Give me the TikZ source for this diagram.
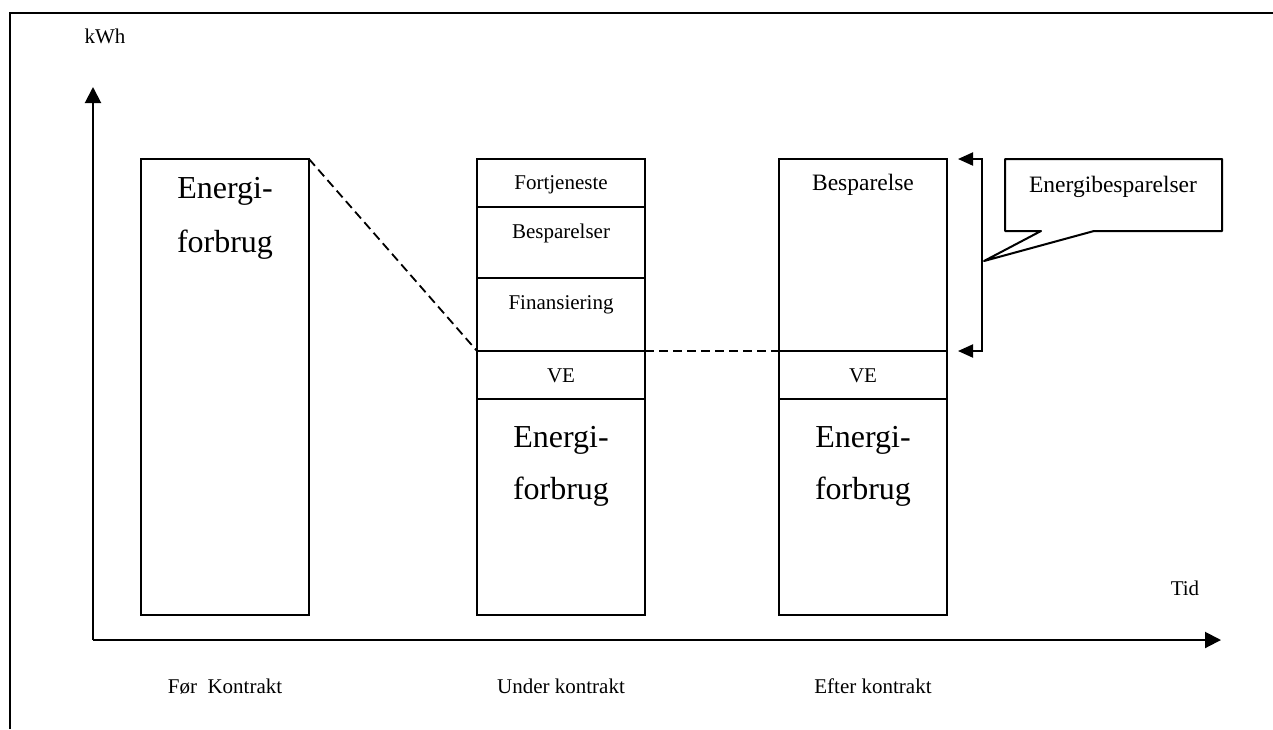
\documentclass[tikz,border=0pt]{standalone}
\usepackage{fontspec}
\setmainfont{Liberation Serif}
\usetikzlibrary{arrows.meta}
\begin{document}
\begin{tikzpicture}[x=1pt,y=-1pt,
  every node/.style={inner sep=0pt, outer sep=0pt},
  bar/.style={draw, line width=2pt, minimum width=168pt, inner sep=0pt},
  small/.style={font=\fontsize{21}{25}\selectfont, anchor=base},
  medium/.style={font=\fontsize{23.5}{28}\selectfont, anchor=base},
  big/.style={font=\fontsize{32}{38}\selectfont, anchor=base},
  axis/.style={line width=2pt, -{Triangle[length=16pt,width=16pt]}},
  dashline/.style={line width=1.8pt, dash pattern=on 9pt off 5pt},
  brack/.style={line width=2pt, {Triangle[length=15pt,width=13pt]}-{Triangle[length=15pt,width=13pt]}}
]
\useasboundingbox (0,0) rectangle (1273,729);
% frame
\draw[line width=2pt] (10,729) -- (10,13) -- (1273,13);
% axes
\coordinate (O) at (93,640);
\coordinate (ytip) at (93,87);
\coordinate (xtip) at (1221,640);
\draw[axis] (O) -- (ytip);
\draw[axis] (O) -- (xtip);
\node[small] (kwh) at (105,43) {kWh};
\node[small] (tid) at (1185,595) {Tid};
% bar 1
\node[bar, minimum height=456pt] (b1) at (225,387) {};
\node[big] (b1a) at (225,198) {Energi-};
\node[big] (b1b) at (225,252) {forbrug};
% bar 2
\node[bar, minimum height=48pt] (s1) at (561,183) {};
\node[bar, minimum height=71pt] (s2) at (561,242.5) {};
\node[bar, minimum height=73pt] (s3) at (561,314.5) {};
\node[bar, minimum height=48pt] (s4) at (561,375) {};
\node[bar, minimum height=216pt] (s5) at (561,507) {};
\node[small] (s1t) at (561,189) {Fortjeneste};
\node[small] (s2t) at (561,238) {Besparelser};
\node[small] (s3t) at (561,309) {Finansiering};
\node[small] (s4t) at (561,382) {VE};
\node[big] (s5a) at (561,447) {Energi-};
\node[big] (s5b) at (561,499) {forbrug};
% bar 3
\node[bar, minimum height=192pt] (t1) at (863,255) {};
\node[bar, minimum height=48pt] (t2) at (863,375) {};
\node[bar, minimum height=216pt] (t3) at (863,507) {};
\node[medium] (t1t) at (863,190) {Besparelse};
\node[small] (t2t) at (863,382) {VE};
\node[big] (t3a) at (863,447) {Energi-};
\node[big] (t3b) at (863,499) {forbrug};
% dashed connectors
\draw[dashline] (b1.north east) -- (s4.north west);
\draw[dashline] (s4.north east) -- (t2.north west);
% bracket
\coordinate (arT) at (958,159);
\coordinate (brT) at (982,159);
\coordinate (brB) at (982,351);
\coordinate (arB) at (958,351);
\draw[brack] (arT) -- (brT) -- (brB) -- (arB);
% callout
\coordinate (ptip) at (984,261);
\draw[line width=2pt, line join=round] (1005,159) -- (1222,159) -- (1222,231) -- (1094,231) -- (ptip) -- (1041,231) -- (1005,231) -- cycle;
\node[medium] (cbt) at (1113,192) {Energibesparelser};
% bottom labels
\node[small] (l1) at (225,693) {Før\ \ Kontrakt};
\node[small] (l2) at (561,693) {Under kontrakt};
\node[small] (l3) at (873,693) {Efter kontrakt};
\end{tikzpicture}
\end{document}
